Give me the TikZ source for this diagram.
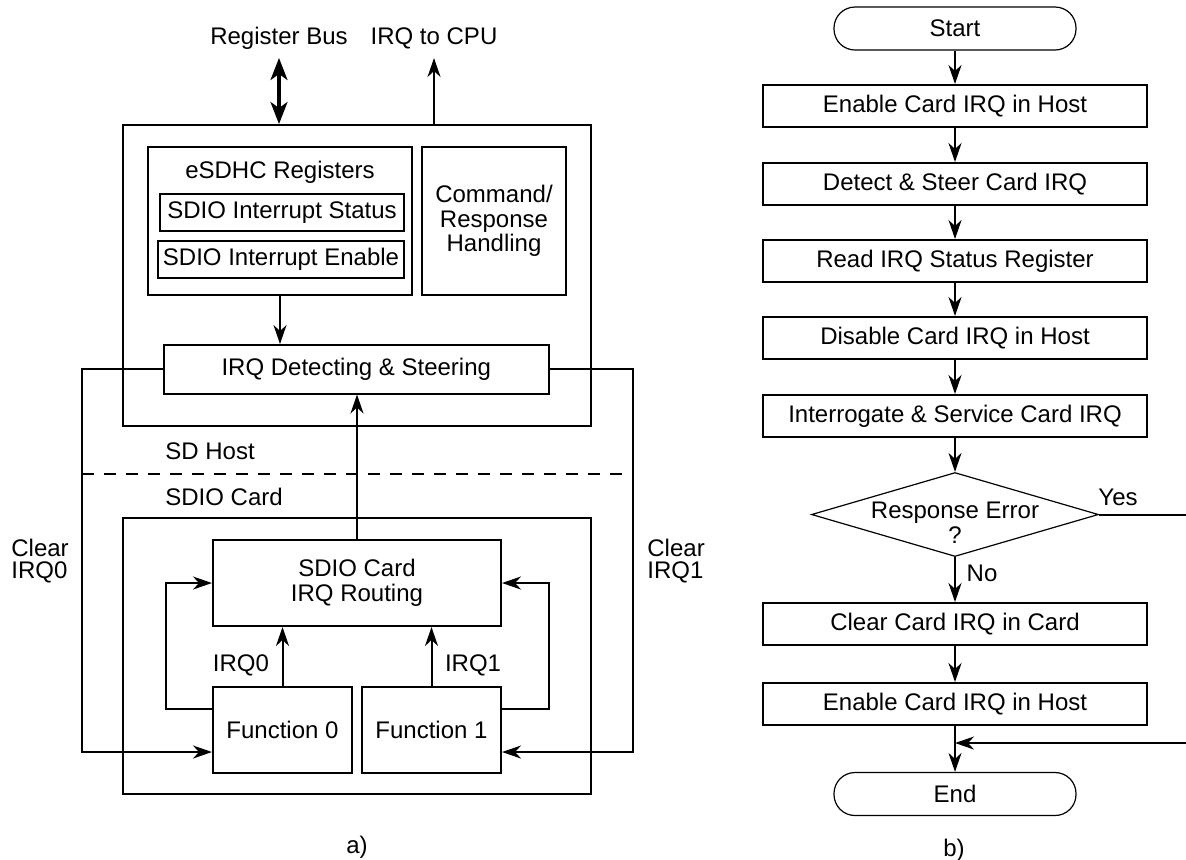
\documentclass[tikz,border=0pt]{standalone}
\usepackage{fontspec}
\setmainfont{Liberation Sans}
\usetikzlibrary{arrows.meta,positioning,shapes.geometric}
\tikzset{
  ar/.style={-{Stealth[length=9.5pt,width=6.5pt,inset=3pt]},line width=1pt},
  dar/.style={{Stealth[length=11pt,width=8.5pt,inset=3pt]}-{Stealth[length=11pt,width=8.5pt,inset=3pt]},line width=1.6pt},
  ln/.style={line width=1pt},
  bx/.style={draw,line width=1pt,inner sep=0pt,align=center},
  tm/.style={draw,line width=0.6pt,rounded corners=10.5pt,inner sep=0pt,minimum width=121pt,minimum height=21.5pt},
  dm/.style={draw,diamond,line width=0.6pt,inner sep=0pt,minimum width=143.5pt,minimum height=42pt},
  lb/.style={inner sep=0pt,align=left}
}
\newcommand{\stp}[3]{\node[bx,minimum width=192pt,minimum height=21pt] (#1) at (955,#2) {#3};}

\begin{document}
\begin{tikzpicture}[x=0.5pt,y=-0.5pt,font=\fontsize{12}{12.3}\selectfont]
\useasboundingbox (0,0) rectangle (1186,859);
% a) host side
\node[bx,minimum width=234.25pt,minimum height=150.25pt] (host) at (356.75,275.25) {};
\node[bx,minimum width=132pt,minimum height=74pt] (regs) at (280,221) {};
\node[inner sep=0pt] (regt) at (280,172) {eSDHC Registers};
\node[bx,minimum width=122pt,minimum height=18.5pt] (stat) at (282,212.5) {SDIO Interrupt Status};
\node[bx,minimum width=123pt,minimum height=18.5pt] (enab) at (281,259.5) {SDIO Interrupt Enable};
\node[bx,minimum width=72pt,minimum height=74pt] (cmd) at (494,221) {Command/\\Response\\Handling};
\node[bx,minimum width=192.25pt,minimum height=24.25pt] (det) at (356.25,369.25) {IRQ Detecting \& Steering};
\node (bus) at (279,38) {Register Bus};
\node (cpu) at (434,38) {IRQ to CPU};
\coordinate (bustip) at (279,58);
\coordinate (cputip) at (434,58);
\draw[dar] (bustip) -- (bustip |- host.north);
\draw[ar] (cputip |- host.north) -- (cputip);
\draw[ar] (regs.south) -- (regs.south |- det.north);
\node[lb,anchor=west] (sdh) at (165,451) {SD Host};
\node[lb,anchor=west] (sdc) at (165,497) {SDIO Card};
\coordinate (dl) at (82,474); \coordinate (dr) at (633,474);
\draw[ln,dash pattern=on 6pt off 5pt] (dl) -- (dr);
% a) card side
\node[bx,minimum width=234.25pt,minimum height=137.75pt] (card) at (356.75,655.75) {};
\node[bx,minimum width=144pt,minimum height=43pt] (rout) at (357,583) {SDIO Card\\IRQ Routing};
\node[bx,minimum width=69.5pt,minimum height=43pt] (f0) at (282.5,730) {Function 0};
\node[bx,minimum width=69.5pt,minimum height=43pt] (f1) at (431.5,730) {Function 1};
\node (irq0) at (241,665) {IRQ0};
\node (irq1) at (473,665) {IRQ1};
\draw[ar] (f0.north) -- (f0.north |- rout.south);
\draw[ar] (f1.north) -- (f1.north |- rout.south);
\draw[ar] (rout.north) -- (rout.north |- det.south);
\coordinate (fb0) at (166,583); \coordinate (fb1) at (549,583);
\draw[ar] ([yshift=10.5pt]f0.west) -| (fb0) -- (rout.west);
\draw[ar] ([yshift=10.5pt]f1.east) -| (fb1) -- (rout.east);
\coordinate (cl0) at (82,752); \coordinate (cl1) at (633,752);
\draw[ar] (det.west) -| (cl0) -- ([yshift=-11pt]f0.west);
\draw[ar] (det.east) -| (cl1) -- ([yshift=-11pt]f1.east);
\node[lb,anchor=west] (clr0) at (11,561) {Clear\\[-1.5pt]IRQ0};
\node[lb,anchor=west] (clr1) at (647,561) {Clear\\[-1.5pt]IRQ1};
\node (capa) at (357,847) {a)};
% b) flow
\node[tm] (start) at (955,28.5) {Start};
\stp{s1}{106}{Enable Card IRQ in Host}
\stp{s2}{184}{Detect \& Steer Card IRQ}
\stp{s3}{261}{Read IRQ Status Register}
\stp{s4}{338}{Disable Card IRQ in Host}
\stp{s5}{416}{Interrogate \& Service Card IRQ}
\node[dm,label={[align=center,yshift=-4pt]center:Response Error\\?}] (err) at (955,514.5) {};
\stp{s6}{624}{Clear Card IRQ in Card}
\stp{s7}{704}{Enable Card IRQ in Host}
\node[tm] (stop) at (955,794) {End};
\node (yes) at (1118,497) {Yes};
\node (no) at (982,573) {No};
\node (capb) at (954,850) {b)};
\foreach \a/\b in {start/s1,s1/s2,s2/s3,s3/s4,s4/s5,s5/err,err/s6,s6/s7,s7/stop}
  \draw[ar] (\a) -- (\b);
\coordinate (yr) at (1187,514.5); \coordinate (yb) at (1187,743);
\draw[ar] (err.east) -- (yr) -- (yb) -- (s7.south |- yb);
\end{tikzpicture}
\end{document}
